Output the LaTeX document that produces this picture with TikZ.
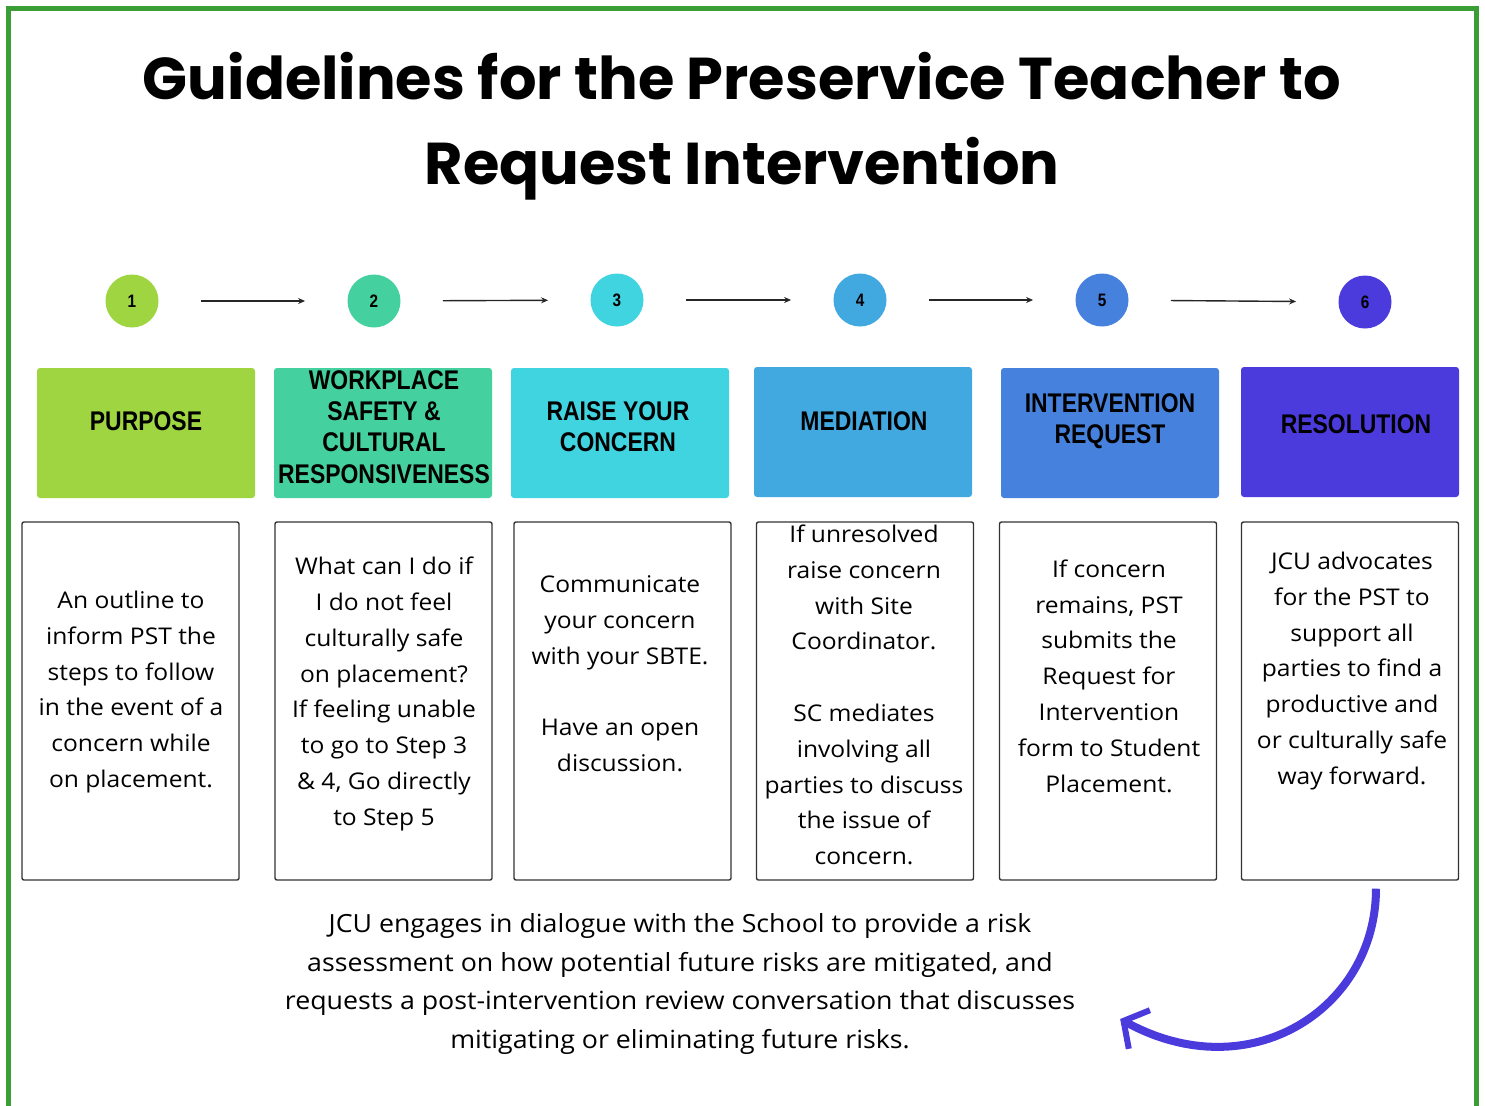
\documentclass[tikz,border=0pt]{standalone}
\usepackage{fontspec}
\setmainfont{Open Sans}[FakeStretch=1.07]
\newfontfamily\titlefont{Poppins}
\newfontfamily\headfont{Liberation Sans}[FakeStretch=0.85]
\usetikzlibrary{arrows.meta, positioning}

\definecolor{framegreen}{HTML}{3A9D36}
\definecolor{stepone}{HTML}{9FD540}
\definecolor{steptwo}{HTML}{44D19F}
\definecolor{stepthree}{HTML}{40D4E0}
\definecolor{stepfour}{HTML}{41A8E0}
\definecolor{stepfive}{HTML}{4682DD}
\definecolor{stepsix}{HTML}{4B3ADC}

\begin{document}
\begin{tikzpicture}[x=0.5pt, y=-0.5pt,
    num/.style={circle, minimum size=26.5pt, inner sep=0pt, font=\headfont\bfseries\fontsize{9}{9}\selectfont},
    head/.style={rounded corners=1.5pt, minimum width=109pt, minimum height=65pt, inner sep=0pt},
    headtext/.style={align=center, font=\headfont\bfseries\fontsize{13.5}{15.6}\selectfont},
    panel/.style={draw=black!80, rounded corners=1pt, minimum width=108.5pt, minimum height=179pt, inner sep=0pt, line width=0.7pt},
    txt/.style={align=center, font=\fontsize{11.5}{17.9}\selectfont},
    link/.style={-{Stealth[length=3.5pt,width=3pt]}, line width=0.7pt, black!85, shorten >=21pt, shorten <=21pt}
  ]
  \useasboundingbox (0,0) rectangle (1485,1105);

  % frame
  \draw[framegreen, line width=2.5pt] (8.5,1110) -- (8.5,8.5) -- (1476.5,8.5) -- (1476.5,1110);

  % title
  \node[align=center, font=\titlefont\bfseries\fontsize{29.5}{42.5}\selectfont] (title) at (742,126)
    {Guidelines for the Preservice Teacher to\\Request Intervention};

  % numbered steps
  \node[num, fill=stepone]   (c1) at (132,301)  {1};
  \node[num, fill=steptwo]   (c2) at (374,301)  {2};
  \node[num, fill=stepthree] (c3) at (617,300)  {3};
  \node[num, fill=stepfour]  (c4) at (860,300)  {4};
  \node[num, fill=stepfive]  (c5) at (1102,300) {5};
  \node[num, fill=stepsix]   (c6) at (1365,302) {6};

  \draw[link] (c1) -- (c2);
  \draw[link] (c2) -- (c3);
  \draw[link] (c3) -- (c4);
  \draw[link] (c4) -- (c5);
  \draw[link] (c5) -- (c6);

  % headings
  \node[head, fill=stepone]   (h1) at (146,433)  {};
  \node[head, fill=steptwo]   (h2) at (383,433)  {};
  \node[head, fill=stepthree] (h3) at (620,433)  {};
  \node[head, fill=stepfour]  (h4) at (863,432)  {};
  \node[head, fill=stepfive]  (h5) at (1110,433) {};
  \node[head, fill=stepsix]   (h6) at (1350,432) {};

  \node[headtext] (h1t) at (146,421)  {PURPOSE};
  \node[headtext] (h2t) at (384,427)  {WORKPLACE\\SAFETY \&\\CULTURAL\\RESPONSIVENESS};
  \node[headtext] (h3t) at (618,427)  {RAISE YOUR\\CONCERN};
  \node[headtext] (h4t) at (864,421)  {MEDIATION};
  \node[headtext] (h5t) at (1110,421) {INTERVENTION\\REQUEST};
  \node[headtext] (h6t) at (1356,424) {RESOLUTION};

  % panels
  \node[panel] (p1) at (130.5,701) {};
  \node[panel] (p2) at (383.5,701) {};
  \node[panel] (p3) at (622.5,701) {};
  \node[panel] (p4) at (865,701)   {};
  \node[panel] (p5) at (1108,701)  {};
  \node[panel] (p6) at (1350,701)  {};

  \node[txt] (t1) at (131,692) {An outline to\\inform PST the\\steps to follow\\in the event of a\\concern while\\on placement.};
  \node[txt] (t2) at (384,694) {What can I do if\\I do not feel\\culturally safe\\on placement?\\If feeling unable\\to go to Step 3\\\& 4, Go directly\\to Step 5};
  \node[txt] (t3) at (620,674) {Communicate\\your concern\\with your SBTE.\\[17.9pt]Have an open\\discussion.};
  \node[txt] (t4) at (864,695) {If unresolved\\raise concern\\with Site\\Coordinator.\\[17.9pt]SC mediates\\involving all\\parties to discuss\\the issue of\\concern.};
  \node[txt] (t5) at (1109,676) {If concern\\remains, PST\\submits the\\Request for\\Intervention\\form to Student\\Placement.};
  \node[txt] (t6) at (1352,671) {JCU advocates\\for the PST to\\support all\\parties to find a\\productive and\\or culturally safe\\way forward.};

  % closing note
  \node[txt, font=\fontsize{12.5}{19.2}\selectfont] (note) at (680,984)
    {JCU engages in dialogue with the School to provide a risk\\assessment on how potential future risks are mitigated, and\\requests a post-intervention review conversation that discusses\\mitigating or eliminating future risks.};
  \coordinate (back) at ([xshift=19pt,yshift=-17.5pt]note.east);

  \draw[stepsix, line width=4pt, -{Straight Barb[length=9pt,width=22pt,line width=3pt]}]
    ([xshift=13pt,yshift=-4pt]p6.south) .. controls ++(0,120) and (1250,1090) .. (back);
\end{tikzpicture}
\end{document}
